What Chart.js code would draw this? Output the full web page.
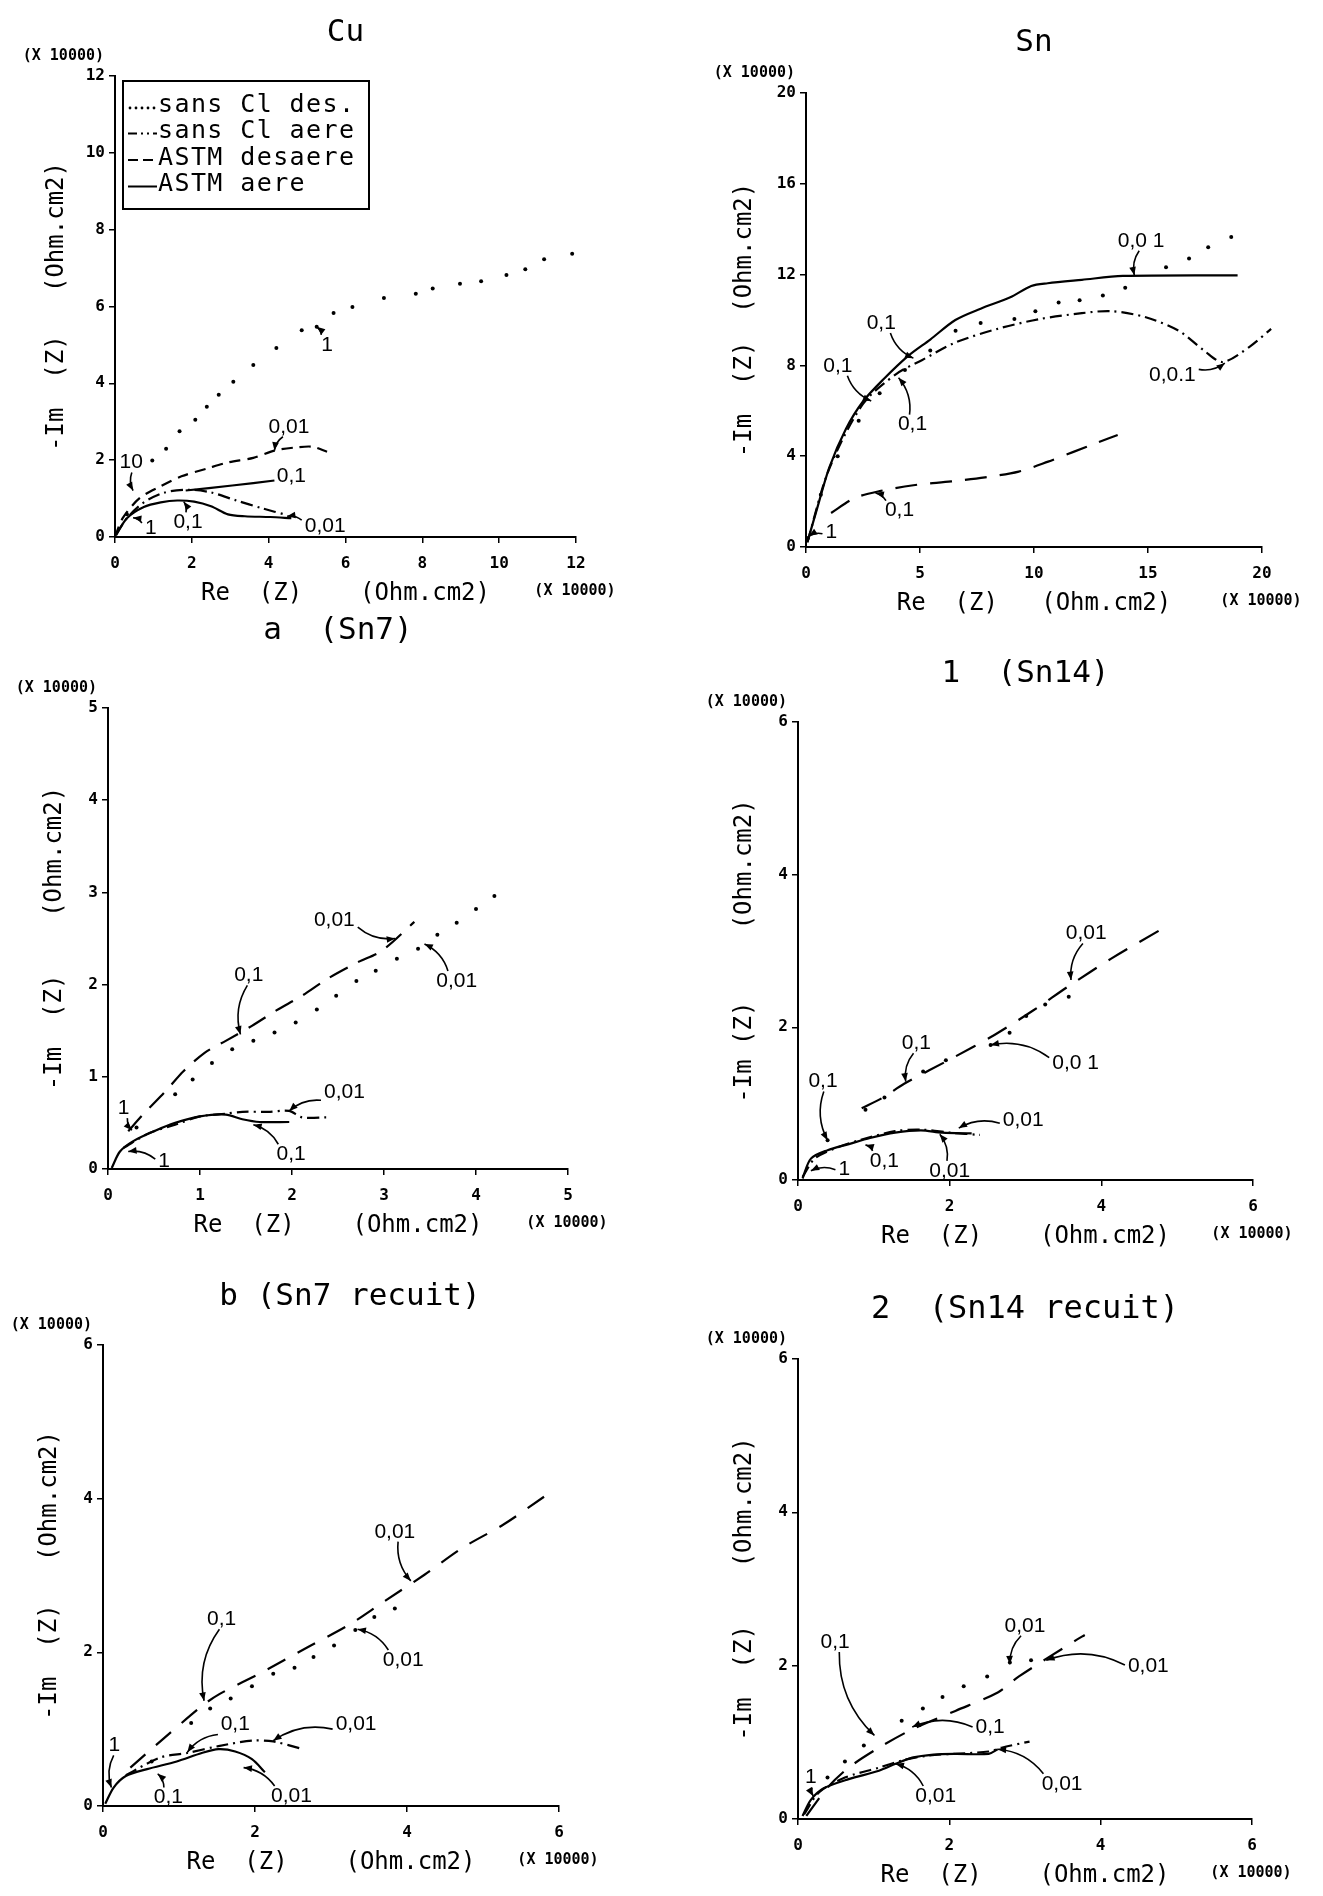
<!DOCTYPE html>
<html>
<head>
<meta charset="utf-8">
<script src="https://cdn.jsdelivr.net/npm/chart.js@4.4.1/dist/chart.umd.min.js"></script>
<style>
html,body{margin:0;padding:0;background:#fff;}
#page{position:relative;width:1323px;height:1896px;overflow:hidden;background:#fff;}
#page canvas{position:absolute;}
</style>
</head>
<body>
<div id="page"></div>
<script>
// ---------------- DATA (Re, -Im in units of 10000 Ohm.cm2) ----------------
const seriesNames = ['sans Cl des.', 'sans Cl aere', 'ASTM desaere', 'ASTM aere'];

// Cu
const cuXTicks = [0, 2, 4, 6, 8, 10, 12];
const cuYTicks = [0, 2, 4, 6, 8, 10, 12];
const cuDotted = [[0.31,0.59],[0.97,1.99],[1.33,2.30],[1.68,2.75],[2.09,3.05],[2.39,3.39],[2.70,3.70],[3.08,4.04],[3.60,4.48],[4.20,4.92],[4.86,5.38],[5.25,5.47],[5.69,5.83],[6.18,5.99],[7.00,6.22],[7.83,6.33],[8.27,6.47],[8.98,6.59],[9.53,6.66],[10.19,6.82],[10.68,6.97],[11.17,7.23],[11.9,7.37]];
const cuDashDot = [[0.03,0.07],[0.31,0.49],[0.75,0.90],[1.30,1.16],[1.95,1.23],[2.50,1.16],[3.16,0.95],[3.82,0.75],[4.48,0.57]];
const cuDashed = [[0,0],[0.20,0.49],[0.64,1.01],[1.19,1.32],[1.73,1.58],[2.39,1.78],[2.94,1.94],[3.60,2.06],[4.15,2.25],[4.70,2.33],[5.14,2.35],[5.52,2.22]];
const cuSolid = [[0.03,0.05],[0.31,0.49],[0.75,0.78],[1.19,0.90],[1.62,0.95],[2.06,0.92],[2.50,0.80],[2.94,0.59],[3.38,0.54],[4.04,0.52],[4.59,0.49]];
const cuSolidBranch = [[1.84,1.21],[3.05,1.34],[4.15,1.47]];
const cuNotes = [["10",0.42,1.94,0.47,1.21],["1",5.52,5.0,5.25,5.47],["0,01",4.53,2.87,4.15,2.25],["0,1",4.59,1.58,null,null],["0,01",5.47,0.28,4.48,0.54],["0,1",1.9,0.38,1.79,0.92],["1",0.93,0.23,0.47,0.5]];

// Sn
const snXTicks = [0, 5, 10, 15, 20];
const snYTicks = [0, 4, 8, 12, 16, 20];
const snDotted = [[0.09,0.4],[0.65,2.3],[1.39,4.0],[2.31,5.56],[3.23,6.77],[4.34,7.8],[5.45,8.66],[6.56,9.53],[7.66,9.87],[9.14,10.04],[10.06,10.39],[11.08,10.77],[12.0,10.87],[13.02,11.08],[14.0,11.42],[15.79,12.32],[16.8,12.71],[17.64,13.2],[18.65,13.66]];
const snDashDot = [[0.06,0.2],[1.0,3.4],[2.5,6.3],[3.97,7.63],[5.08,8.23],[6.56,9.01],[8.4,9.61],[10.25,10.04],[12.1,10.3],[13.39,10.39],[14.87,10.13],[16.34,9.53],[17.45,8.66],[18.28,8.15],[19.48,8.84],[20.4,9.61]];
const snDashed = [[1.1,1.5],[2.12,2.15],[3.23,2.46],[4.71,2.72],[6.37,2.89],[7.85,3.07],[9.33,3.32],[10.62,3.76],[11.73,4.19],[12.84,4.62],[13.67,4.93]];
const snSolid = [[0.06,0.22],[0.46,1.6],[1.02,3.5],[1.75,5.2],[2.49,6.4],[3.41,7.4],[4.52,8.45],[5.45,9.14],[6.55,10.0],[7.66,10.5],[8.96,11.0],[9.88,11.5],[10.6,11.62],[12.1,11.77],[13.9,11.94],[18.93,11.97]];
const snNotes = [["0,0 1",14.7,13.49,14.4,11.97],["0,1",3.3,9.87,4.71,8.32],["0,1",1.4,7.98,2.86,6.43],["0,1",4.67,5.39,4.06,7.46],["0,0.1",16.07,7.55,18.37,8.1],["0,1",4.1,1.6,3.05,2.38],["1",1.11,0.65,0.13,0.48]];

// a (Sn7)
const sn7XTicks = [0, 1, 2, 3, 4, 5];
const sn7YTicks = [0, 1, 2, 3, 4, 5];
const sn7Dotted = [[0.31,0.45],[0.73,0.81],[0.92,0.97],[1.13,1.15],[1.35,1.30],[1.58,1.39],[1.81,1.48],[2.04,1.59],[2.27,1.73],[2.48,1.88],[2.70,2.04],[2.91,2.15],[3.14,2.28],[3.37,2.39],[3.58,2.54],[3.79,2.67],[4.00,2.82],[4.20,2.96]];
const sn7Dashed = [[0.22,0.41],[0.38,0.59],[0.64,0.86],[0.82,1.06],[1.05,1.26],[1.28,1.39],[1.56,1.55],[1.83,1.72],[2.11,1.88],[2.38,2.06],[2.71,2.24],[2.98,2.37],[3.33,2.68]];
const sn7DashDot = [[0.17,0.23],[0.45,0.39],[0.73,0.48],[1.00,0.57],[1.28,0.60],[1.46,0.62],[1.74,0.62],[1.97,0.63],[2.11,0.56],[2.38,0.56]];
const sn7Solid = [[0.04,0.01],[0.13,0.19],[0.27,0.30],[0.50,0.41],[0.73,0.50],[1.00,0.57],[1.28,0.59],[1.46,0.54],[1.65,0.51],[1.97,0.51]];
const sn7Notes = [["0,01",2.46,2.70,3.12,2.50],["0,01",3.79,2.04,3.44,2.44],["0,1",1.53,2.10,1.44,1.46],["0,01",2.57,0.83,1.97,0.63],["0,1",1.99,0.16,1.58,0.48],["1",0.61,0.08,0.22,0.19],["1",0.17,0.66,0.26,0.42]];

// 1 (Sn14)
const sn14XTicks = [0, 2, 4, 6];
const sn14YTicks = [0, 2, 4, 6];
const sn14Dotted = [[0.39,0.52],[0.89,0.92],[1.14,1.08],[1.65,1.42],[1.95,1.57],[2.54,1.77],[2.79,1.93],[3.01,2.15],[3.26,2.30],[3.57,2.40]];
const sn14Dashed = [[0.84,0.94],[1.12,1.08],[1.40,1.26],[2.06,1.61],[2.59,1.90],[3.10,2.22],[3.57,2.54],[4.13,2.90],[4.80,3.29]];
const sn14DashDot = [[0.06,0.04],[0.22,0.28],[0.50,0.42],[0.84,0.53],[1.28,0.64],[1.62,0.66],[2.01,0.62],[2.40,0.59]];
const sn14Solid = [[0.06,0.02],[0.17,0.28],[0.39,0.39],[0.67,0.47],[0.95,0.55],[1.28,0.62],[1.62,0.65],[1.90,0.62],[2.29,0.61]];
const sn14Notes = [["0,01",3.8,3.23,3.6,2.62],["0,0 1",3.66,1.53,2.54,1.77],["0,1",1.56,1.79,1.42,1.29],["0,1",0.33,1.29,0.39,0.52],["0,01",2.97,0.78,2.12,0.68],["0,1",1.14,0.25,0.89,0.46],["0,01",2.0,0.12,1.87,0.6],["1",0.61,0.14,0.17,0.12]];

// b (Sn7 recuit)
const sn7rXTicks = [0, 2, 4, 6];
const sn7rYTicks = [0, 2, 4, 6];
const sn7rDotted = [[0.64,0.58],[1.16,1.08],[1.41,1.27],[1.68,1.40],[1.96,1.56],[2.24,1.72],[2.52,1.80],[2.77,1.94],[3.04,2.09],[3.32,2.29],[3.57,2.46],[3.84,2.57]];
const sn7rDashed = [[0.36,0.50],[0.80,0.88],[1.30,1.30],[1.52,1.45],[2.13,1.76],[2.68,2.06],[3.24,2.36],[3.68,2.65],[4.23,3.01],[4.73,3.36],[5.28,3.67],[5.81,4.03]];
const sn7rDashDot = [[0.30,0.40],[0.75,0.63],[1.11,0.69],[1.52,0.78],[1.96,0.85],[2.24,0.84],[2.63,0.74]];
const sn7rSolid = [[0.03,0.03],[0.14,0.24],[0.30,0.39],[0.58,0.48],[0.97,0.58],[1.30,0.69],[1.52,0.74],[1.74,0.71],[1.96,0.61],[2.13,0.44]];
const sn7rNotes = [["0,01",3.84,3.57,4.05,2.93],["0,01",3.95,1.90,3.35,2.30],["0,1",1.56,2.43,1.33,1.37],["0,1",1.74,1.06,1.11,0.70],["0,01",3.33,1.06,2.24,0.85],["0,01",2.48,0.13,1.85,0.50],["0,1",0.86,0.11,0.72,0.42],["1",0.15,0.79,0.11,0.24]];

// 2 (Sn14 recuit)
const sn14rXTicks = [0, 2, 4, 6];
const sn14rYTicks = [0, 2, 4, 6];
const sn14rDotted = [[0.39,0.54],[0.62,0.75],[0.87,0.96],[1.37,1.28],[1.65,1.44],[1.91,1.59],[2.19,1.73],[2.50,1.86],[2.80,2.04],[3.08,2.07]];
const sn14rDashed = [[0.11,0.04],[0.39,0.41],[0.67,0.67],[1.07,0.93],[1.51,1.17],[2.08,1.41],[2.64,1.65],[2.92,1.86],[3.67,2.33],[3.79,2.40]];
const sn14rDashDot = [[0.08,0.06],[0.28,0.35],[0.62,0.54],[1.07,0.67],[1.40,0.77],[1.74,0.83],[2.08,0.85],[2.52,0.88],[2.69,0.93],[3.06,1.01]];
const sn14rSolid = [[0.06,0.04],[0.17,0.25],[0.34,0.40],[0.67,0.52],[1.07,0.63],[1.29,0.72],[1.51,0.80],[1.79,0.84],[2.08,0.85],[2.52,0.85],[2.64,0.91]];
const sn14rNotes = [["0,1",0.49,2.31,1.01,1.09],["0,01",3.0,2.52,2.8,2.02],["0,01",4.63,1.99,3.28,2.07],["0,1",2.54,1.20,1.51,1.20],["0,01",1.82,0.30,1.29,0.72],["0,01",3.49,0.46,2.64,0.91],["1",0.17,0.54,0.2,0.3]];

// ---------------- LAYOUT / STYLE ----------------
const PADL = 110, PADT = 110, PADR = 90, PADB = 80;
const MONO = 'DejaVu Sans Mono';
const DASH = { dashdot: [12, 5, 2, 5], solid: [] };

const panels = [
  { title: 'Cu', titleDy: -43, titleDx: 0, left: 115, top: 76, w: 461, h: 461, xTicks: cuXTicks, yTicks: cuYTicks,
    xTitle: 'Re  (Z)    (Ohm.cm2)', yTitle: '-Im  (Z)   (Ohm.cm2)', yTitleDist: 58,
    dotted: cuDotted, dashdot: cuDashDot, dashed: cuDashed, solid: cuSolid, extraSolid: cuSolidBranch,
    notes: cuNotes, legend: true, dash: [11, 7] },
  { title: 'Sn', titleDy: -50, titleDx: 0, left: 806, top: 93, w: 456, h: 454, xTicks: snXTicks, yTicks: snYTicks,
    xTitle: 'Re  (Z)   (Ohm.cm2)', yTitle: '-Im  (Z)  (Ohm.cm2)', yTitleDist: 61,
    dotted: snDotted, dashdot: snDashDot, dashed: snDashed, solid: snSolid,
    notes: snNotes, dash: [22, 13] },
  { title: 'a  (Sn7)', titleDy: -77, titleDx: 0, left: 108, top: 708, w: 460, h: 461, xTicks: sn7XTicks, yTicks: sn7YTicks,
    xTitle: 'Re  (Z)    (Ohm.cm2)', yTitle: '-Im  (Z)    (Ohm.cm2)', yTitleDist: 53,
    dotted: sn7Dotted, dashdot: sn7DashDot, dashed: sn7Dashed, solid: sn7Solid,
    notes: sn7Notes, dash: [20, 12] },
  { title: '1  (Sn14)', titleDy: -48, titleDx: 0, left: 798, top: 722, w: 455, h: 458, xTicks: sn14XTicks, yTicks: sn14YTicks,
    xTitle: 'Re  (Z)    (Ohm.cm2)', yTitle: '-Im (Z)     (Ohm.cm2)', yTitleDist: 53,
    dotted: sn14Dotted, dashdot: sn14DashDot, dashed: sn14Dashed, solid: sn14Solid,
    notes: sn14Notes, dash: [22, 14] },
  { title: 'b (Sn7 recuit)', titleDy: -48, titleDx: 19, left: 103, top: 1345, w: 456, h: 461, xTicks: sn7rXTicks, yTicks: sn7rYTicks,
    xTitle: 'Re  (Z)    (Ohm.cm2)', yTitle: '-Im  (Z)   (Ohm.cm2)', yTitleDist: 53,
    dotted: sn7rDotted, dashdot: sn7rDashDot, dashed: sn7rDashed, solid: sn7rSolid,
    notes: sn7rNotes, dash: [20, 14] },
  { title: '2  (Sn14 recuit)', titleDy: -49, titleDx: 0, left: 798, top: 1359, w: 454, h: 460, xTicks: sn14rXTicks, yTicks: sn14rYTicks,
    xTitle: 'Re  (Z)    (Ohm.cm2)', yTitle: '-Im  (Z)    (Ohm.cm2)', yTitleDist: 53,
    dotted: sn14rDotted, dashdot: sn14rDashDot, dashed: sn14rDashed, solid: sn14rSolid,
    notes: sn14rNotes, dash: [22, 14], titleSize: 32 }
];

function toXY(arr) { return arr.map(p => ({ x: p[0], y: p[1] })); }

function lineDs(arr, dash) {
  return { data: toXY(arr), showLine: true, pointRadius: 0, borderColor: '#000', backgroundColor: '#000',
           borderWidth: 2.2, borderDash: dash, tension: 0.3, clip: false };
}
function dotDs(arr) {
  return { data: toXY(arr), showLine: false, pointRadius: 2, pointBorderWidth: 0,
           pointBackgroundColor: '#000', borderColor: '#000', clip: false };
}

function drawNote(ctx, xs, ys, note) {
  const [text, tx, ty, ax, ay] = note;
  const cx = xs.getPixelForValue(tx), cy = ys.getPixelForValue(ty);
  ctx.font = '21px "Liberation Sans"';
  ctx.textAlign = 'center'; ctx.textBaseline = 'middle';
  ctx.fillText(text, cx, cy);
  if (ax == null) return;
  const px = xs.getPixelForValue(ax), py = ys.getPixelForValue(ay);
  const hw = ctx.measureText(text).width / 2 + 3, hh = 10;
  const dx = px - cx, dy = py - cy;
  const s = Math.min(hw / Math.max(Math.abs(dx), 1e-6), hh / Math.max(Math.abs(dy), 1e-6));
  if (s >= 1) return;
  const sx = cx + dx * s, sy = cy + dy * s;
  const len = Math.hypot(px - sx, py - sy);
  const nx = -(py - sy) / len, ny = (px - sx) / len;
  const k = len * 0.22;
  const qx = (sx + px) / 2 + nx * k, qy = (sy + py) / 2 + ny * k;
  ctx.beginPath(); ctx.moveTo(sx, sy); ctx.quadraticCurveTo(qx, qy, px, py);
  ctx.lineWidth = 1.6; ctx.setLineDash([]); ctx.stroke();
  const ang = Math.atan2(py - qy, px - qx), L = 9;
  ctx.beginPath(); ctx.moveTo(px, py);
  ctx.lineTo(px - L * Math.cos(ang - 0.38), py - L * Math.sin(ang - 0.38));
  ctx.lineTo(px - L * Math.cos(ang + 0.38), py - L * Math.sin(ang + 0.38));
  ctx.closePath(); ctx.fill();
}

const panelText = {
  id: 'panelText',
  afterDraw(chart, args, opts) {
    const p = opts.panel;
    const { ctx, chartArea: a, scales: { x, y } } = chart;
    ctx.save();
    ctx.fillStyle = '#000'; ctx.strokeStyle = '#000';
    ctx.font = (p.titleSize || 31) + 'px "' + MONO + '"';
    ctx.textAlign = 'center'; ctx.textBaseline = 'middle';
    ctx.fillText(p.title, (a.left + a.right) / 2 + p.titleDx, a.top + p.titleDy);
    ctx.font = 'bold 15px "' + MONO + '"';
    ctx.textAlign = 'right';
    ctx.fillText('(X 10000)', a.left - 11, a.top - 20);
    ctx.textAlign = 'center';
    ctx.fillText('(X 10000)', a.right - 1, a.bottom + 54);
    p.notes.forEach(n => drawNote(ctx, x, y, n));
    if (p.legend) {
      const lx = a.left + 8, ly = a.top + 5, lw = 246, lh = 128;
      ctx.lineWidth = 2; ctx.setLineDash([]);
      ctx.strokeRect(lx, ly, lw, lh);
      const styles = ['dotted', 'dashdot', 'dashed', 'solid'];
      ctx.font = '25px "' + MONO + '"';
      ctx.textAlign = 'left'; ctx.textBaseline = 'middle';
      styles.forEach((st, i) => {
        const ry = ly + 24 + i * 26.5;
        const x1 = lx + 5, x2 = lx + 34;
        if (st === 'dotted') {
          for (let xx = x1 + 2; xx < x2; xx += 6) { ctx.beginPath(); ctx.arc(xx, ry + 3, 1.4, 0, Math.PI * 2); ctx.fill(); }
        } else {
          ctx.beginPath(); ctx.lineWidth = 2;
          ctx.setLineDash(st === 'dashdot' ? [9, 4, 2, 4, 2, 4] : st === 'dashed' ? [10, 5] : []);
          ctx.moveTo(x1, ry + 2); ctx.lineTo(x2, ry + 2); ctx.stroke();
          ctx.setLineDash([]);
        }
        try { ctx.letterSpacing = '1.4px'; } catch (e) {}
        ctx.fillText(seriesNames[i], lx + 35, ry);
        try { ctx.letterSpacing = '0px'; } catch (e) {}
      });
    }
    ctx.restore();
  }
};

const page = document.getElementById('page');
panels.forEach(p => {
  const cv = document.createElement('canvas');
  const W = PADL + p.w + PADR, H = PADT + p.h + PADB;
  cv.width = W; cv.height = H;
  cv.style.left = (p.left - PADL) + 'px';
  cv.style.top = (p.top - PADT) + 'px';
  cv.style.width = W + 'px'; cv.style.height = H + 'px';
  page.appendChild(cv);

  const datasets = [
    dotDs(p.dotted),
    lineDs(p.dashdot, DASH.dashdot),
    lineDs(p.dashed, p.dash),
    lineDs(p.solid, DASH.solid)
  ];
  if (p.extraSolid) datasets.push(lineDs(p.extraSolid, DASH.solid));

  const tickFont = { family: MONO, size: 16, weight: 'bold' };
  const titleFont = { family: MONO, size: 24, weight: 'normal', lineHeight: 1.2 };
  const xMax = p.xTicks[p.xTicks.length - 1], yMax = p.yTicks[p.yTicks.length - 1];

  new Chart(cv, {
    type: 'scatter',
    data: { datasets },
    plugins: [panelText],
    options: {
      responsive: false, animation: false, events: [],
      devicePixelRatio: 1,
      layout: { padding: { left: 0, top: PADT, right: PADR, bottom: 0 } },
      plugins: { legend: { display: false }, tooltip: { enabled: false }, panelText: { panel: p } },
      scales: {
        x: {
          type: 'linear', position: 'bottom', min: 0, max: xMax,
          afterBuildTicks: s => { s.ticks = p.xTicks.map(v => ({ value: v })); },
          afterFit: s => { s.height = PADB; },
          ticks: { font: tickFont, color: '#000', padding: 11, maxRotation: 0, autoSkip: false },
          grid: { drawOnChartArea: false, drawTicks: true, tickLength: 6, color: '#000', lineWidth: 1.5 },
          border: { display: true, color: '#000', width: 2 },
          title: { display: true, text: p.xTitle, color: '#000', font: titleFont, padding: { top: 0, bottom: 8.6 } }
        },
        y: {
          type: 'linear', position: 'left', min: 0, max: yMax,
          afterBuildTicks: s => { s.ticks = p.yTicks.map(v => ({ value: v })); },
          afterFit: s => { s.width = PADL; },
          ticks: { font: tickFont, color: '#000', padding: 4, autoSkip: false },
          grid: { drawOnChartArea: false, drawTicks: true, tickLength: 6, color: '#000', lineWidth: 1.5 },
          border: { display: true, color: '#000', width: 2 },
          title: { display: true, text: p.yTitle, color: '#000', font: titleFont, padding: { top: 95.6 - p.yTitleDist, bottom: 0 } }
        }
      }
    }
  });
});
</script>
</body>
</html>
